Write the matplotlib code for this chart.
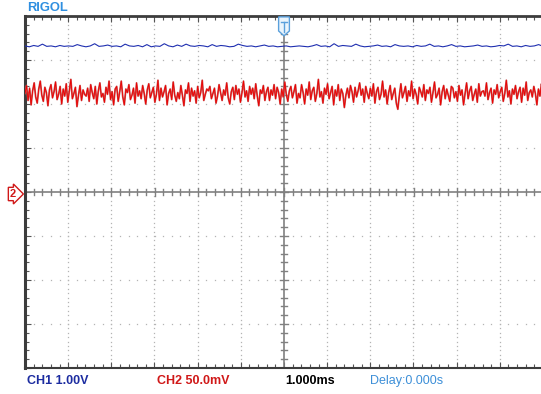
import matplotlib.pyplot as plt
import numpy as np
from matplotlib.patches import Polygon

# scope settings
CH1_SCALE = 1.00    # V/div
CH2_SCALE = 50.0    # mV/div
TIMEBASE = 1.000    # ms/div

# CH1 trace (V)
ch1_volts = [
    3.32, 3.30, 3.33, 3.31, 3.36, 3.31, 3.32, 3.30, 3.33, 3.31,
    3.32, 3.31, 3.35, 3.32, 3.30, 3.32, 3.37, 3.31, 3.32, 3.34,
    3.31, 3.32, 3.30, 3.36, 3.32, 3.31, 3.33, 3.30, 3.35, 3.30,
    3.32, 3.31, 3.37, 3.32, 3.30, 3.34, 3.31, 3.36, 3.32, 3.31,
    3.33, 3.32, 3.30, 3.35, 3.31, 3.33, 3.32, 3.30, 3.31, 3.36,
    3.33, 3.31, 3.32, 3.30, 3.32, 3.34, 3.31, 3.32, 3.30, 3.31,
    3.32, 3.30, 3.31, 3.32, 3.31, 3.30, 3.32, 3.35, 3.31, 3.32,
    3.30, 3.37, 3.31, 3.33, 3.32, 3.31, 3.36, 3.32, 3.30, 3.31,
    3.32, 3.34, 3.31, 3.32, 3.30, 3.35, 3.32, 3.31, 3.32, 3.30,
    3.33, 3.31, 3.32, 3.36, 3.31, 3.32, 3.30, 3.32, 3.35, 3.31,
    3.32, 3.30, 3.31, 3.32, 3.34, 3.31, 3.32, 3.30, 3.31, 3.33,
    3.32, 3.36, 3.31, 3.32, 3.30, 3.33, 3.31, 3.32, 3.35, 3.31,
]

# CH2 trace (mV)
ch2_mv = [
    112, 121, 104, 118, 99, 115, 124, 108, 101, 117, 126, 110, 103, 119, 113, 98, 116, 122, 107, 114,
    125, 105, 111, 120, 100, 117, 109, 123, 102, 115, 128, 106, 112, 119, 97, 110, 121, 104, 116, 111,
    109, 118, 103, 122, 113, 106, 120, 100, 115, 124, 108, 112, 102, 119, 111, 126, 105, 114, 99, 117,
    120, 103, 114, 126, 108, 99, 117, 113, 122, 105, 110, 118, 101, 124, 109, 115, 106, 121, 112, 100,
    116, 123, 107, 113, 119, 102, 111, 127, 104, 118, 108, 114, 121, 99, 112, 117, 105, 125, 110, 103,
    113, 106, 121, 110, 98, 116, 112, 124, 103, 118, 109, 115, 101, 120, 107, 113, 127, 104, 111, 117,
    115, 120, 106, 112, 118, 101, 109, 122, 113, 104, 116, 110, 124, 107, 100, 114, 119, 105, 121, 111,
    117, 102, 113, 126, 108, 115, 103, 120, 111, 118, 106, 123, 109, 98, 116, 112, 121, 104, 114, 119,
    104, 116, 110, 122, 106, 119, 113, 100, 117, 108, 125, 111, 103, 115, 120, 107, 114, 122, 101, 112,
    107, 122, 113, 100, 117, 110, 125, 105, 115, 119, 103, 112, 128, 108, 114, 101, 118, 111, 123, 106,
    113, 120, 99, 116, 109, 122, 104, 117, 112, 96, 110, 118, 107, 121, 114, 102, 119, 108, 115, 124,
    110, 117, 102, 120, 112, 106, 118, 109, 123, 101, 114, 119, 105, 111, 126, 108, 116, 100, 113, 121,
    105, 112, 118, 101, 94, 110, 123, 107, 113, 120, 103, 115, 109, 126, 106, 117, 111, 100, 119, 114,
    108, 122, 104, 116, 112, 119, 102, 113, 125, 107, 111, 118, 99, 114, 121, 106, 117, 110, 103, 120,
    118, 107, 114, 103, 121, 110, 116, 99, 112, 124, 106, 115, 120, 104, 111, 117, 102, 123, 109, 114,
    115, 109, 124, 105, 113, 118, 101, 116, 111, 122, 107, 114, 119, 103, 112, 127, 108, 115, 100, 117,
    111, 121, 106, 114, 119, 102, 118, 110, 125, 104, 113, 116, 108, 120, 112, 99, 117, 109, 123, 114,
]

bottom_labels = ["CH1 1.00V", "CH2 50.0mV", "1.000ms", "Delay:0.000s"]
label_colors = ["#1c2ca0", "#d01818", "#000000", "#3d8fd8"]

plt.rcParams['font.family'] = ['Liberation Sans', 'DejaVu Sans']

fig = plt.figure(figsize=(5.41, 3.94), dpi=100)
ax = fig.add_axes([25 / 541, 26 / 394, 518 / 541, 352 / 394])
ax.set_xlim(-6, 6)
ax.set_ylim(-4, 4)

# dotted graticule
grid_c = "#b4b4b4"
for gx in range(-5, 6):
    if gx == 0:
        continue
    ys = np.arange(-4, 4.001, 0.1)
    ax.plot(np.full_like(ys, gx), ys, ls="none", marker="s", ms=0.9,
            mec="none", mfc=grid_c, zorder=1)
for gy in range(-3, 4):
    if gy == 0:
        continue
    xs = np.arange(-6, 6.001, 0.2)
    ax.plot(xs, np.full_like(xs, gy), ls="none", marker="s", ms=0.9,
            mec="none", mfc=grid_c, zorder=1)

# centre crosshair with ticks
cross_c = "#808080"
ax.axhline(0, color=cross_c, lw=1.2, zorder=2)
ax.axvline(0, color=cross_c, lw=1.2, zorder=2)
for t in np.arange(-6, 6.001, 0.2):
    h = 0.1 if abs(t - round(t)) < 1e-6 else 0.07
    ax.plot([t, t], [-h, h], color=cross_c, lw=1.0, zorder=2)
for t in np.arange(-4, 4.001, 0.2):
    h = 0.1 if abs(t - round(t)) < 1e-6 else 0.07
    ax.plot([-h, h], [t, t], color=cross_c, lw=1.0, zorder=2)

# traces
x1 = np.linspace(-6, 6, len(ch1_volts))
ax.plot(x1, np.array(ch1_volts) / CH1_SCALE, color="#1f2fb0", lw=0.8, zorder=3)
x2 = np.linspace(-6, 6, len(ch2_mv))
ax.plot(x2, np.array(ch2_mv) / CH2_SCALE, color="#c85858", lw=1.3, zorder=3)
ax.plot(x2, np.array(ch2_mv) / CH2_SCALE, color="#ee0000", lw=0.6, zorder=4)

# frame
ax.set_xticks(np.arange(-6, 6.01, 1))
ax.set_yticks(np.arange(-4, 4.01, 1))
ax.set_xticks(np.arange(-6, 6.01, 0.2), minor=True)
ax.set_yticks(np.arange(-4, 4.01, 0.2), minor=True)
ax.tick_params(which="both", direction="in", top=True, bottom=True, left=True,
               right=False, labelbottom=False, labelleft=False,
               color="#555555", width=0.8)
ax.tick_params(which="major", length=4)
ax.tick_params(which="minor", length=3)
ax.spines["right"].set_visible(False)
for side, lw in [("left", 2.2), ("top", 2.0), ("bottom", 1.5)]:
    ax.spines[side].set_color("#3c3c3c")
    ax.spines[side].set_linewidth(lw)

# trigger position marker
trig = Polygon([(-0.125, 3.98), (0.125, 3.98), (0.125, 3.66), (0, 3.55), (-0.125, 3.66)],
               closed=True, fc="#eaf4fc", ec="#5aa0dc", lw=1.0, zorder=6, clip_on=False)
ax.add_patch(trig)
ax.plot([-0.07, 0.07], [3.86, 3.86], color="#5aa0dc", lw=1.0, zorder=7)
ax.plot([0, 0], [3.86, 3.64], color="#5aa0dc", lw=1.0, zorder=7)

# CH2 ground marker
fig.text(10 / 541, 1 - 194 / 394, "2", color="#d01818", fontsize=8, fontweight="bold",
         ha="left", va="center",
         bbox=dict(boxstyle="rarrow,pad=0.15", fc="white", ec="#d01818", lw=1.0))

fig.text(27 / 541, 1 - 8 / 394, "RIGOL", color="#2f8fe0", fontsize=9.3,
         fontweight="bold", ha="left", va="center")

label_x = [27, 157, 285, 370]
for txt, c, lx in zip(bottom_labels, label_colors, label_x):
    fig.text(lx / 541, 13 / 394, txt, color=c, fontsize=9,
             fontweight="normal" if txt.startswith("Delay") else "bold",
             ha="left", va="center")

fig.savefig("out.png", dpi=100)
